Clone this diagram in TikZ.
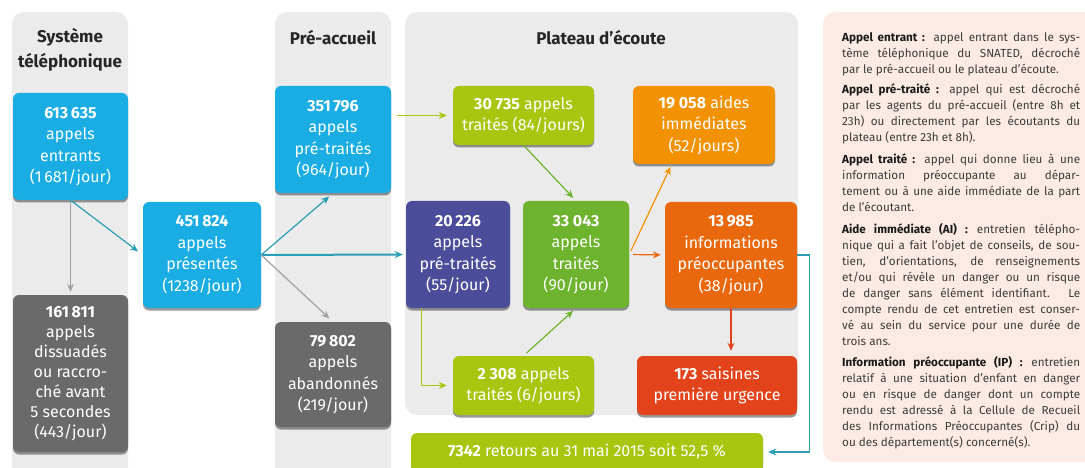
\documentclass[tikz,border=0pt]{standalone}
\usepackage{fontspec}
\setmainfont{Fira Sans}
\usetikzlibrary{arrows.meta,shadows,calc}
\definecolor{cblue}{HTML}{1AADE4}
\definecolor{cgray}{HTML}{6A6A6A}
\definecolor{cpanel}{HTML}{EBEBEB}
\definecolor{clime}{HTML}{A8C60F}
\definecolor{cgreen}{HTML}{6DB32D}
\definecolor{cpurple}{HTML}{4C4D9A}
\definecolor{corange}{HTML}{F39200}
\definecolor{cdorange}{HTML}{E9680D}
\definecolor{cred}{HTML}{E3431A}
\definecolor{cteal}{HTML}{2A9EB4}
\definecolor{carrgray}{HTML}{A0A0A0}
\definecolor{clegbg}{HTML}{FCEBE4}
\definecolor{clegtxt}{HTML}{3C3C3C}
\newcommand\jl[1]{\hbox to 238pt{#1}}
\newcommand\lastl[1]{\hbox{#1}}
\newcommand\bt[1]{\textbf{\color{black!90}#1}}
\begin{document}
\begin{tikzpicture}[x=1pt,y=-1pt,
  panel/.style={fill=cpanel, rounded corners=12pt},
  box/.style={fill=#1, rounded corners=6pt, text=white, align=center, inner sep=0pt,
    font=\fontsize{16}{21.5}\selectfont,
    drop shadow={shadow xshift=0pt,shadow yshift=-2.5pt,opacity=0.4,fill=black}},
  ttl/.style={font=\fontsize{17}{25}\selectfont\bfseries, text=black!85, align=center},
  conn/.style={line width=1.2pt, -{Stealth[length=8pt,width=7pt]}},
]
\useasboundingbox (0,0) rectangle (1085,468);
\clip (0,0) rectangle (1085,468);
% panels
\fill[panel] (12,12) rectangle (128,490);
\fill[panel] (275,12) rectangle (391,490);
\fill[panel] (405,12) rectangle (798,415);
\fill[clegbg, rounded corners=12pt] (823,12) rectangle (1110,462);
% titles
\node[ttl] (t1) at (70,50) {Système\\téléphonique};
\node[ttl] (t2) at (333,38) {Pré-accueil};
\node[ttl] (t3) at (601,38) {Plateau d'écoute};
% boxes
\node[box=cblue, minimum width=115pt, minimum height=107pt] (sys) at (70.5,146.5)
  {\textbf{613\,635}\\appels\\entrants\\(1\,681/jour)};
\node[box=cgray, minimum width=115pt, minimum height=157pt, font=\fontsize{16}{20}\selectfont] (dis) at (70.5,373.5)
  {\textbf{161\,811}\\appels\\dissuadés\\ou raccro-\\ché avant\\5 secondes\\(443/jour)};
\node[box=cblue, minimum width=118pt, minimum height=106pt] (pres) at (202,255)
  {\textbf{451\,824}\\appels\\présentés\\(1238/jour)};
\node[box=cblue, minimum width=116pt, minimum height=107pt] (pre) at (333,139.5)
  {\textbf{351\,796}\\appels\\pré-traités\\(964/jour)};
\node[box=cgray, minimum width=116pt, minimum height=105pt] (aban) at (333,374.5)
  {\textbf{79\,802}\\appels\\abandonnés\\(219/jour)};
\node[box=clime, minimum width=141pt, minimum height=59pt] (t30) at (523.5,115.5)
  {\textbf{30 735} appels\\traités (84/jours)};
\node[box=corange, minimum width=142pt, minimum height=78pt] (ai) at (704,125)
  {\textbf{19 058} aides\\immédiates\\(52/jours)};
\node[box=cpurple, minimum width=104pt, minimum height=107pt] (pt) at (458,254.5)
  {\textbf{20\,226}\\appels\\pré-traités\\(55/jour)};
\node[box=cgreen, minimum width=106pt, minimum height=107pt] (tr) at (576,254.5)
  {\textbf{33 043}\\appels\\traités\\(90/jour)};
\node[box=cdorange, minimum width=132pt, minimum height=106pt] (ip) at (731,255)
  {\textbf{13\,985}\\informations\\préoccupantes\\(38/jour)};
\node[box=clime, minimum width=141pt, minimum height=59pt] (t23) at (523.5,385.5)
  {\textbf{2 308} appels\\traités (6/jours)};
\node[box=cred, minimum width=160pt, minimum height=59pt] (sai) at (717,385.5)
  {\textbf{173} saisines\\première urgence};
\node[box=clime, minimum width=352pt, minimum height=38pt] (ret) at (587,452)
  {\textbf{7342} retours au 31 mai 2015 soit 52,5 \%};
% helper coordinates
\coordinate (ptl) at ($(pt.south west)+(16,0)$);
\coordinate (aitgt) at ($(ai.south west)+(39,0)$);
% connectors
\draw[conn, carrgray] (sys.south) -- (dis.north) [shorten >=3pt];
\draw[conn, cteal] (sys.south) -- (pres.west) [shorten >=6pt];
\draw[conn, cteal] (pres.east) -- (pre.south) [shorten >=5pt];
\draw[conn, cteal, line width=2pt] (pres.east) -- (pt.west) [shorten >=3pt];
\draw[conn, carrgray] (pres.east) -- (aban.north) [shorten >=5pt];
\draw[conn, clime] (pre.east |- t30.west) -- (t30.west) [shorten <=6pt, shorten >=6pt];
\draw[conn, clime] (ptl) |- (t23.west) [shorten >=6pt];
\draw[conn, cgreen] (t30.south) -- (tr.north) [shorten >=4pt];
\draw[conn, cgreen] (t23.north) -- (tr.south) [shorten <=4pt, shorten >=4pt];
\draw[conn, corange] (tr.east) -- (aitgt) [shorten <=4pt, shorten >=3pt];
\draw[conn, cdorange] (tr.east) -- (ip.west) [shorten <=4pt, shorten >=4pt];
\draw[conn, cred] (ip.south) -- (ip.south |- sai.north) [shorten >=5pt];
\draw[conn, cteal] (ip.east) -- ++(12,0) |- (ret.east) [shorten >=5pt];
% legend
\node[anchor=north west, inner sep=0pt, text=clegtxt,
  font=\fontsize{11.7}{16}\selectfont] (leg) at (842,32) {\vbox{%
\hsize=238pt\baselineskip=16pt\lineskiplimit=-10pt\parskip=0pt
\jl{\bt{Appel entrant :} appel entrant dans le sys-}
\jl{tème téléphonique du SNATED, décroché}
\lastl{par le pré-accueil ou le plateau d'écoute.}
\vskip 4pt
\jl{\bt{Appel pré-traité :} appel qui est décroché}
\jl{par les agents du pré-accueil (entre 8h et}
\jl{23h) ou directement par les écoutants du}
\lastl{plateau (entre 23h et 8h).}
\vskip 6pt
\jl{\bt{Appel traité :} appel qui donne lieu à une}
\jl{information préoccupante au dépar-}
\jl{tement ou à une aide immédiate de la part}
\lastl{de l'écoutant.}
\vskip 6pt
\jl{\bt{Aide immédiate (AI) :} entretien télépho-}
\jl{nique qui a fait l'objet de conseils, de sou-}
\jl{tien, d'orientations, de renseignements}
\jl{et/ou qui révèle un danger ou un risque}
\jl{de danger sans élément identifiant. Le}
\jl{compte rendu de cet entretien est conser-}
\jl{vé au sein du service pour une durée de}
\lastl{trois ans.}
\vskip 5pt
\jl{\bt{Information préoccupante (IP) :} entretien}
\jl{relatif à une situation d'enfant en danger}
\jl{ou en risque de danger dont un compte}
\jl{rendu est adressé à la Cellule de Recueil}
\jl{des Informations Préoccupantes (Crip) du}
\lastl{ou des département(s) concerné(s).}
}};
\end{tikzpicture}
\end{document}
